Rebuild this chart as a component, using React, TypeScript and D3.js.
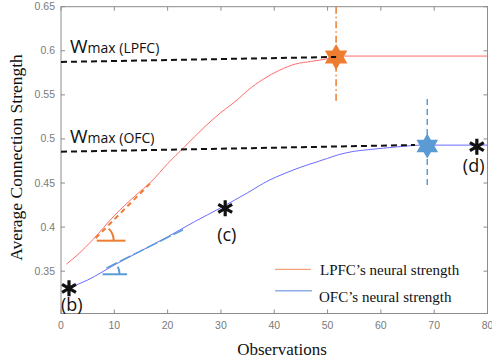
import React from "react";
import * as d3 from "d3";

// ---- data ----
const lpfcX = [1, 3, 6, 10, 14, 17, 20, 23, 27, 30, 33, 35, 38, 41, 44, 47, 50, 52, 80];
const lpfcY = [0.358, 0.368, 0.386, 0.413, 0.436, 0.452, 0.472, 0.49, 0.514, 0.53, 0.544, 0.555, 0.568, 0.578, 0.585, 0.588, 0.591, 0.594, 0.594];
const ofcX = [1.5, 5, 10, 15, 20, 25, 30, 35, 39, 42, 45, 48, 50, 52, 55, 58, 63, 68, 80];
const ofcY = [0.331, 0.34, 0.357, 0.373, 0.389, 0.406, 0.422, 0.439, 0.453, 0.461, 0.468, 0.474, 0.478, 0.482, 0.486, 0.488, 0.491, 0.493, 0.493];

const xTicks = [0, 10, 20, 30, 40, 50, 60, 70, 80];
const yTicks = [0.35, 0.4, 0.45, 0.5, 0.55, 0.6, 0.65];

// Wmax reference lines [x0, y0, x1, y1]
const wmaxLPFC = [0, 0.5873, 51.6, 0.593];
const wmaxOFC = [0, 0.4855, 66.4, 0.4931];
// stars [x, y]
const starLPFC = [51.6, 0.593];
const starOFC = [68.7, 0.492];
// vertical markers [x, yTop, yBottom]
const vLPFC = [51.6, 0.65, 0.542];
const vOFC = [68.7, 0.5453, 0.4444];
// asterisks
const starPts = [
  { x: 1.5, y: 0.3306, label: "(b)", dx: -8, dy: 23 },
  { x: 30.8, y: 0.4213, label: "(c)", dx: -8, dy: 33 },
  { x: 78, y: 0.4912, label: "(d)", dx: -14, dy: 25 },
];
// tangent annotations [x0,y0,x1,y1], horizontal [x0,x1,y]
const tanLPFC = [6.5, 0.3875, 17.2, 0.4525];
const horLPFC = [6.7, 12.1, 0.3846];
const tanOFC = [8.5, 0.3535, 22.9, 0.397];
const horOFC = [7.8, 12.4, 0.3465];

const W = 492, H = 364;
const L = 61, R = 487.5, T = 6.7, B = 313.5;

const ORANGE = "#ED7D31";
const BLUE = "#5B9BD5";
const AXIS = "#8c8c8c";

function hexagram(cx: number, cy: number, Ro: number) {
  const ri = Ro / Math.sqrt(3);
  const pts: string[] = [];
  for (let i = 0; i < 12; i++) {
    const a = -Math.PI / 2 + (i * Math.PI) / 6;
    const r = i % 2 === 0 ? Ro : ri;
    pts.push(`${cx + r * Math.cos(a)},${cy + r * Math.sin(a)}`);
  }
  return pts.join(" ");
}

function asterisk(cx: number, cy: number, r: number) {
  let d = "";
  for (let i = 0; i < 3; i++) {
    const a = Math.PI / 2 + (i * Math.PI) / 3;
    d += `M${cx + r * Math.cos(a)},${cy + r * Math.sin(a)}L${cx - r * Math.cos(a)},${cy - r * Math.sin(a)}`;
  }
  return d;
}

export default function App() {
  const x = d3.scaleLinear().domain([0, 80]).range([L, R]);
  const y = d3.scaleLinear().domain([0.302, 0.65]).range([B, T]);

  const line = d3
    .line<[number, number]>()
    .x((d) => x(d[0]))
    .y((d) => y(d[1]))
    .curve(d3.curveMonotoneX);

  const lpfc = lpfcX.map((v, i) => [v, lpfcY[i]] as [number, number]);
  const ofc = ofcX.map((v, i) => [v, ofcY[i]] as [number, number]);

  const angleArc = (hor: number[], tan: number[], r: number, color: string) => {
    const vx = x(hor[0]);
    const vy = y(hor[2]);
    const ang = Math.atan2(y(tan[1]) - y(tan[3]), x(tan[2]) - x(tan[0]));
    const ex = vx + r * Math.cos(ang);
    const ey = vy - r * Math.sin(ang);
    return (
      <g>
        <line x1={x(hor[0])} x2={x(hor[1])} y1={vy} y2={vy} stroke={color} strokeWidth={2} />
        <path d={`M${vx + r},${vy} A${r},${r} 0 0 0 ${ex},${ey}`} fill="none" stroke={color} strokeWidth={2} />
      </g>
    );
  };

  const serif = "'Liberation Serif', 'Times New Roman', serif";
  const sans = "'Liberation Sans', Arial, sans-serif";
  const calib = "'Open Sans', 'Liberation Sans', sans-serif";

  return (
    <svg width={W} height={H} style={{ position: "absolute", left: 0, top: 0, background: "#fff" }}>
      <rect width={W} height={H} fill="#fff" />
      {/* axis box */}
      <rect x={L} y={T} width={R - L} height={B - T} fill="none" stroke={AXIS} strokeWidth={1} />
      {xTicks.map((t) => (
        <g key={"x" + t}>
          <line x1={x(t)} x2={x(t)} y1={B} y2={B - 4} stroke={AXIS} />
          <line x1={x(t)} x2={x(t)} y1={T} y2={T + 4} stroke={AXIS} />
          <text x={x(t)} y={B + 15} textAnchor="middle" fontFamily={sans} fontSize={10.5} fill="#7a7a7a">
            {t}
          </text>
        </g>
      ))}
      {yTicks.map((t) => (
        <g key={"y" + t}>
          <line x1={L} x2={L + 4} y1={y(t)} y2={y(t)} stroke={AXIS} />
          <line x1={R} x2={R - 4} y1={y(t)} y2={y(t)} stroke={AXIS} />
          <text x={L - 6} y={y(t) + 3.5} textAnchor="end" fontFamily={sans} fontSize={10.5} fill="#7a7a7a">
            {String(t)}
          </text>
        </g>
      ))}

      {/* curves */}
      <path d={line(lpfc) || ""} fill="none" stroke="#ff6b6b" strokeWidth={1} />
      <path d={line(ofc) || ""} fill="none" stroke="#6b6bff" strokeWidth={1} />

      {/* tangent annotations */}
      <line x1={x(tanLPFC[0])} y1={y(tanLPFC[1])} x2={x(tanLPFC[2])} y2={y(tanLPFC[3])} stroke={ORANGE} strokeWidth={2} strokeDasharray="5,4" />
      {angleArc(horLPFC, tanLPFC, 17, ORANGE)}
      <line x1={x(tanOFC[0])} y1={y(tanOFC[1])} x2={x(tanOFC[2])} y2={y(tanOFC[3])} stroke={BLUE} strokeWidth={1.5} strokeDasharray="12,3" />
      {angleArc(horOFC, tanOFC, 17, BLUE)}

      {/* vertical markers */}
      <line x1={x(vOFC[0])} x2={x(vOFC[0])} y1={y(vOFC[1])} y2={y(vOFC[2])} stroke={BLUE} strokeWidth={1.5} strokeDasharray="6,4" />
      {/* stars */}
      <polygon points={hexagram(x(starLPFC[0]), y(starLPFC[1]), 13)} fill={ORANGE} />
      <polygon points={hexagram(x(starOFC[0]), y(starOFC[1]), 12.5)} fill={BLUE} />
      <line x1={x(vLPFC[0])} x2={x(vLPFC[0])} y1={y(vLPFC[1])} y2={y(vLPFC[2])} stroke={ORANGE} strokeWidth={1.5} strokeDasharray="7,3,1.5,3" />

      {/* Wmax lines */}
      <line x1={x(wmaxLPFC[0])} y1={y(wmaxLPFC[1])} x2={x(wmaxLPFC[2])} y2={y(wmaxLPFC[3])} stroke="#111" strokeWidth={2} strokeDasharray="6,4" />
      <line x1={x(wmaxOFC[0])} y1={y(wmaxOFC[1])} x2={x(wmaxOFC[2])} y2={y(wmaxOFC[3])} stroke="#111" strokeWidth={2} strokeDasharray="6,4" />
      <text x={70} y={52.5} fontFamily={calib} fill="#111">
        <tspan fontSize={19}>W</tspan>
        <tspan fontSize={14}>max (LPFC)</tspan>
      </text>
      <text x={70} y={143} fontFamily={calib} fill="#111">
        <tspan fontSize={19}>W</tspan>
        <tspan fontSize={14}>max (OFC)</tspan>
      </text>

      {/* asterisks */}
      {starPts.map((p) => (
        <g key={p.label}>
          <path d={asterisk(x(p.x), y(p.y), 8)} stroke="#111" strokeWidth={3.2} />
          <text x={x(p.x) + p.dx} y={y(p.y) + p.dy} fontFamily={calib} fontSize={18} fill="#111">
            {p.label}
          </text>
        </g>
      ))}

      {/* legend */}
      <line x1={275} x2={311} y1={269.3} y2={269.3} stroke="#f4a27a" strokeWidth={1.2} />
      <text x={320} y={275} fontFamily={serif} fontSize={15} fill="#111">LPFC’s neural strength</text>
      <line x1={275} x2={312} y1={290.7} y2={290.7} stroke="#8fb0e6" strokeWidth={1.5} />
      <text x={319} y={301.5} fontFamily={serif} fontSize={15} fill="#111">OFC’s neural strength</text>

      {/* axis titles */}
      <text x={282} y={355} textAnchor="middle" fontFamily={serif} fontSize={17} fill="#111">
        Observations
      </text>
      <text transform="translate(21.5, 157.5) rotate(-90)" textAnchor="middle" fontFamily={serif} fontSize={17.5} fill="#111">
        Average Connection Strength
      </text>
    </svg>
  );
}
